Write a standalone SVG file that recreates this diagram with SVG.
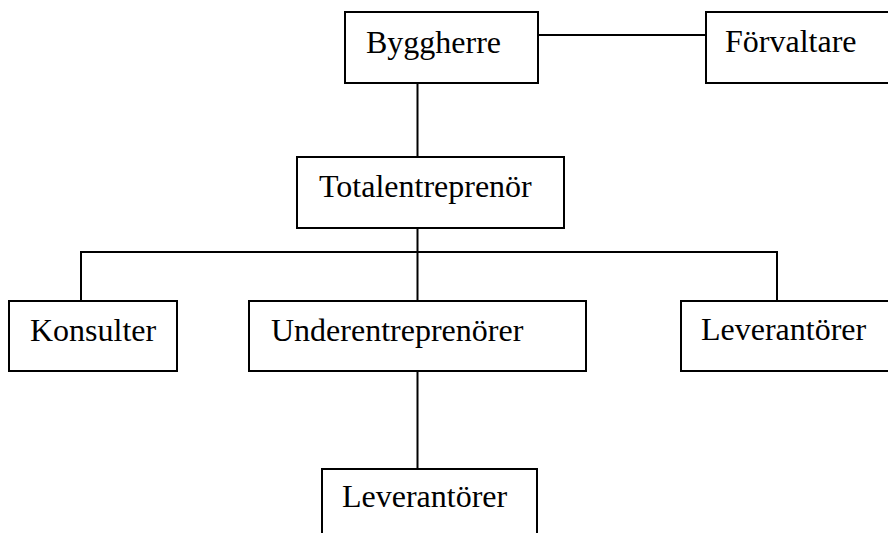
<svg xmlns="http://www.w3.org/2000/svg" width="888" height="533" viewBox="0 0 888 533">
<style>
.box{fill:#fff;stroke:#000;stroke-width:2}
.ln{fill:none;stroke:#000;stroke-width:2}
.t{font-family:"Liberation Serif","Times New Roman",serif;font-size:32px;fill:#000}
</style>
<rect width="888" height="533" fill="#fff"/>
<g id="connectors">
<line class="ln" x1="538" y1="35" x2="706" y2="35"/>
<line class="ln" x1="417.5" y1="83" x2="417.5" y2="157"/>
<line class="ln" x1="417.5" y1="228" x2="417.5" y2="301"/>
<polyline class="ln" points="81,301 81,252 777,252 777,301"/>
<line class="ln" x1="417.5" y1="371" x2="417.5" y2="469"/>
</g>
<g id="byggherre"><rect class="box" x="345" y="12" width="193" height="71"/><text class="t" x="366" y="53">Byggherre</text></g>
<g id="forvaltare"><rect class="box" x="706" y="12" width="200" height="71"/><text class="t" x="725" y="52">Förvaltare</text></g>
<g id="totalentreprenor"><rect class="box" x="297" y="157" width="267" height="71"/><text class="t" x="319" y="197">Totalentreprenör</text></g>
<g id="konsulter"><rect class="box" x="9" y="301" width="168" height="70"/><text class="t" x="30" y="341">Konsulter</text></g>
<g id="underentreprenorer"><rect class="box" x="249" y="301" width="337" height="70"/><text class="t" x="271" y="341">Underentreprenörer</text></g>
<g id="leverantorer1"><rect class="box" x="681" y="301" width="220" height="70"/><text class="t" x="701" y="340">Leverantörer</text></g>
<g id="leverantorer2"><rect class="box" x="322" y="469" width="215" height="80"/><text class="t" x="342" y="507">Leverantörer</text></g>
</svg>
